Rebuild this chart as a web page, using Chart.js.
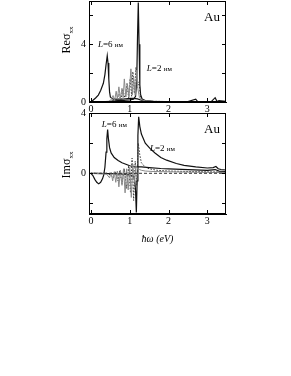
<!DOCTYPE html>
<html>
<head>
<meta charset="utf-8">
<script src="https://cdn.jsdelivr.net/npm/chart.js@4.4.1/dist/chart.umd.min.js"></script>
<style>
  body { margin: 0; background: #fff; }
  #wrap { position: relative; width: 291px; height: 376px; background: #fff; }
  canvas { position: absolute; left: 0; }
</style>
</head>
<body>
<div id="wrap">
  <canvas id="re" width="291" height="115" style="top:0"></canvas>
  <canvas id="im" width="291" height="140" style="top:105px"></canvas>
</div>
<script>
// x axis (photon energy, eV)
const xTicks = [0, 1, 2, 3];
const reTicks = [0, 2, 4, 6];
const reLabels = [0, 4];
const imTicks = [-2, 0, 2, 4];
const imLabels = [0, 4];

// Re sigma_xx
const reL6x = [0, 0.06, 0.12, 0.19, 0.25, 0.32, 0.36, 0.39, 0.42, 0.44, 0.46, 0.48, 0.5, 0.55, 0.6, 0.7, 0.8, 0.9, 1.0, 1.1, 1.2, 1.3, 1.4, 1.6, 2.0, 2.5, 3.0, 3.48];
const reL6y = [0, 0.14, 0.28, 0.48, 0.8, 1.3, 1.9, 2.6, 3.2, 2.7, 1.6, 0.7, 0.35, 0.22, 0.18, 0.2, 0.2, 0.22, 0.25, 0.25, 0.22, 0.12, 0.06, 0.03, 0.02, 0.02, 0.02, 0.02];
const reL2x = [0, 0.3, 0.5, 0.6, 0.7, 0.8, 0.9, 1.0, 1.1, 1.15, 1.18, 1.2, 1.22, 1.24, 1.26, 1.28, 1.32, 1.4, 1.6, 2.0, 2.5, 2.7, 2.75, 2.8, 3.1, 3.2, 3.25, 3.3, 3.48];
const reL2y = [0, 0.02, 0.05, 0.08, 0.1, 0.1, 0.12, 0.15, 0.2, 0.4, 1.5, 4.5, 6.9, 4.0, 1.2, 0.5, 0.2, 0.1, 0.05, 0.03, 0.03, 0.2, 0.03, 0.03, 0.03, 0.3, 0.03, 0.1, 0.05];
const reGx = [0, 0.3, 0.45, 0.52, 0.57, 0.61, 0.65, 0.68, 0.72, 0.76, 0.8, 0.83, 0.86, 0.9, 0.94, 0.98, 1.03, 1.07, 1.1, 1.14, 1.18, 1.21, 1.25, 1.3, 1.4, 1.6, 2.0, 2.5, 3.0, 3.48];
const reGy = [0, 0.02, 0.05, 0.15, 0.45, 0.1, 0.75, 0.2, 1.05, 0.25, 0.95, 0.3, 1.6, 0.35, 1.25, 0.35, 2.3, 0.5, 1.7, 0.45, 2.2, 0.9, 0.3, 0.15, 0.08, 0.05, 0.03, 0.03, 0.03, 0.03];
const reDx = [0, 0.4, 0.55, 0.62, 0.66, 0.72, 0.77, 0.82, 0.88, 0.93, 0.97, 1.01, 1.05, 1.08, 1.12, 1.16, 1.19, 1.24, 1.28, 1.35, 1.5, 2.0, 2.5, 3.0, 3.48];
const reDy = [0, 0.02, 0.05, 0.3, 0.1, 0.55, 0.15, 0.9, 0.2, 1.3, 0.3, 1.6, 0.4, 2.1, 0.6, 2.4, 1.0, 1.4, 0.3, 0.1, 0.05, 0.03, 0.03, 0.03, 0.03];

// Im sigma_xx
const imL6x = [0, 0.05, 0.1, 0.15, 0.2, 0.25, 0.3, 0.33, 0.36, 0.39, 0.41, 0.43, 0.45, 0.48, 0.52, 0.6, 0.7, 0.8, 0.9, 1.0, 1.1, 1.2, 1.3, 1.5, 1.8, 2.0, 2.5, 3.0, 3.2, 3.3, 3.48];
const imL6y = [0, -0.15, -0.4, -0.6, -0.7, -0.6, -0.35, -0.1, 0.4, 1.4, 2.3, 2.9, 2.3, 1.7, 1.35, 1.05, 0.85, 0.7, 0.6, 0.5, 0.45, 0.42, 0.42, 0.38, 0.32, 0.3, 0.25, 0.2, 0.25, 0.15, 0.12];
const imL2x = [0, 0.5, 0.8, 1.0, 1.1, 1.13, 1.15, 1.17, 1.19, 1.21, 1.23, 1.26, 1.3, 1.4, 1.52, 1.65, 1.8, 1.95, 2.2, 2.4, 2.7, 3.0, 3.15, 3.22, 3.28, 3.35, 3.48];
const imL2y = [0, -0.02, -0.05, -0.1, -0.2, -0.5, -1.2, -2.6, -0.5, 2.5, 3.75, 3.1, 2.6, 2.0, 1.65, 1.35, 1.05, 0.87, 0.65, 0.53, 0.42, 0.35, 0.38, 0.45, 0.3, 0.25, 0.22];
const imGx = [0, 0.4, 0.48, 0.52, 0.56, 0.6, 0.64, 0.68, 0.72, 0.76, 0.8, 0.84, 0.88, 0.92, 0.96, 1.0, 1.04, 1.08, 1.12, 1.16, 1.2, 1.25, 1.3, 1.4, 1.6, 2.0, 2.5, 3.0, 3.48];
const imGy = [0, -0.05, -0.3, 0.05, -0.5, 0.1, -0.6, 0.15, -0.9, 0.2, -0.8, 0.3, -1.3, 0.3, -1.1, 0.4, -1.6, 0.6, -0.6, 0.5, 0.3, 0.25, 0.2, 0.15, 0.12, 0.1, 0.08, 0.06, 0.05];
const imDx = [0, 0.4, 0.5, 0.58, 0.62, 0.7, 0.74, 0.8, 0.86, 0.92, 0.97, 1.02, 1.06, 1.1, 1.14, 1.18, 1.22, 1.26, 1.3, 1.4, 1.5, 1.7, 2.0, 2.5, 3.0, 3.48];
const imDy = [0, 0, -0.1, -0.3, 0.1, -0.5, 0.2, -0.7, 0.3, -1.0, 0.5, -1.3, 1.0, -1.8, 0.8, -0.8, 2.0, 1.2, 0.7, 0.4, 0.3, 0.2, 0.15, 0.12, 0.1, 0.08];
const zeroX = [-0.05, 3.48];
const zeroY = [0, 0];

const pts = (xs, ys) => xs.map((x, i) => ({ x, y: ys[i] }));
const serif = '"Liberation Serif", "DejaVu Serif", serif';

// frame, inward ticks, y title and notes
const decor = {
  id: 'decor',
  afterDraw(chart, args, o) {
    const { ctx, chartArea: a, scales } = chart;
    ctx.save();
    ctx.strokeStyle = '#000';
    ctx.lineWidth = 1;
    ctx.strokeRect(a.left + 0.5, a.top + 0.5, a.right - a.left - 1, a.bottom - a.top - 1);
    ctx.beginPath();
    scales.x.ticks.forEach(t => {
      const px = Math.round(scales.x.getPixelForValue(t.value)) + 0.5;
      ctx.moveTo(px, a.bottom); ctx.lineTo(px, a.bottom - 4);
      ctx.moveTo(px, a.top); ctx.lineTo(px, a.top + 4);
    });
    scales.y.ticks.forEach(t => {
      const py = Math.round(scales.y.getPixelForValue(t.value)) + 0.5;
      ctx.moveTo(a.left, py); ctx.lineTo(a.left + 4, py);
      ctx.moveTo(a.right, py); ctx.lineTo(a.right - 4, py);
    });
    ctx.stroke();

    // rotated y title with subscript
    ctx.fillStyle = '#000';
    ctx.translate(o.tx, o.ty);
    ctx.rotate(-Math.PI / 2);
    ctx.font = '12px ' + serif;
    const main = o.title + 'σ';
    const w1 = ctx.measureText(main).width;
    ctx.font = '7px ' + serif;
    const w2 = ctx.measureText('xx').width;
    ctx.textBaseline = 'alphabetic';
    ctx.font = '12px ' + serif;
    ctx.fillText(main, -(w1 + w2) / 2, 4);
    ctx.font = '7px ' + serif;
    ctx.fillText('xx', -(w1 + w2) / 2 + w1, 7);
    ctx.setTransform(1, 0, 0, 1, 0, 0);

    // "Au"
    ctx.font = '13px ' + serif;
    ctx.textAlign = 'center';
    ctx.textBaseline = 'middle';
    ctx.fillText('Au', scales.x.getPixelForValue(o.au[0]), scales.y.getPixelForValue(o.au[1]));

    // L = ... labels
    ctx.textAlign = 'left';
    ctx.textBaseline = 'alphabetic';
    o.notes.forEach(n => {
      let px = scales.x.getPixelForValue(n.x);
      const py = scales.y.getPixelForValue(n.y);
      ctx.font = 'italic 9px ' + serif;
      ctx.fillText('L', px, py);
      px += ctx.measureText('L').width;
      ctx.font = '9px ' + serif;
      const s = '=' + n.size + ' ';
      ctx.fillText(s, px, py);
      px += ctx.measureText(s).width;
      ctx.font = '7px ' + serif;
      ctx.fillText('нм', px, py);
    });
    ctx.restore();
  }
};

function lineSet(data, color, width, dash) {
  return {
    data, borderColor: color, borderWidth: width, borderDash: dash || [],
    pointRadius: 0, fill: false, tension: 0, showLine: true
  };
}

function makeChart(id, cfg) {
  return new Chart(document.getElementById(id), {
    type: 'scatter',
    data: { datasets: cfg.datasets },
    options: {
      responsive: false,
      animation: false,
      events: [],
      layout: { padding: { left: 0, right: 65, top: cfg.padTop, bottom: 0 } },
      plugins: { legend: { display: false }, tooltip: { enabled: false }, decor: cfg.decor },
      scales: {
        x: {
          type: 'linear', min: -0.05, max: 3.48,
          afterBuildTicks: s => { s.ticks = xTicks.map(v => ({ value: v })); },
          ticks: { color: '#000', font: { family: serif, size: 10 }, padding: 1, autoSkip: false, maxRotation: 0 },
          grid: { drawOnChartArea: false, drawTicks: false },
          border: { color: '#000' },
          title: cfg.xTitle ? { display: true, text: 'ħω (eV)', color: '#000', font: { family: serif, size: 10, style: 'italic' }, padding: { top: 1, bottom: 0 } } : { display: false },
          afterFit: s => { s.height = cfg.xHeight; s.paddingLeft = 0; s.paddingRight = 0; }
        },
        y: {
          type: 'linear', min: cfg.yMin, max: cfg.yMax,
          afterBuildTicks: s => { s.ticks = cfg.yTicks.map(v => ({ value: v })); },
          ticks: {
            color: '#000', font: { family: serif, size: 10 }, padding: 3, autoSkip: false,
            callback: v => cfg.yLabels.includes(v) ? String(v) : ''
          },
          grid: { drawOnChartArea: false, drawTicks: false },
          border: { color: '#000' },
          afterFit: s => { s.width = 89; s.paddingTop = 0; s.paddingBottom = 0; }
        }
      }
    },
    plugins: [decor]
  });
}

makeChart('re', {
  padTop: 1, xHeight: 13, yMin: 0, yMax: 7, yTicks: reTicks, yLabels: reLabels, xTitle: false,
  datasets: [
    lineSet(pts(reGx, reGy), '#8a8a8a', 1),
    lineSet(pts(reDx, reDy), '#333', 1, [1.5, 1.5]),
    lineSet(pts(reL2x, reL2y), '#111', 1.2),
    lineSet(pts(reL6x, reL6y), '#111', 1.2)
  ],
  decor: {
    title: 'Re', tx: 66, ty: 40, au: [3.12, 5.86],
    notes: [{ x: 0.18, y: 3.8, size: 6 }, { x: 1.44, y: 2.14, size: 2 }]
  }
});

makeChart('im', {
  padTop: 8, xHeight: 31, yMin: -2.7, yMax: 4, yTicks: imTicks, yLabels: imLabels, xTitle: true,
  datasets: [
    lineSet(pts(zeroX, zeroY), '#333', 1, [3, 2]),
    lineSet(pts(imGx, imGy), '#8a8a8a', 1),
    lineSet(pts(imDx, imDy), '#333', 1, [1.5, 1.5]),
    lineSet(pts(imL2x, imL2y), '#111', 1.2),
    lineSet(pts(imL6x, imL6y), '#111', 1.2)
  ],
  decor: {
    title: 'Im', tx: 66, ty: 60, au: [3.12, 2.87],
    notes: [{ x: 0.28, y: 3.07, size: 6 }, { x: 1.52, y: 1.47, size: 2 }]
  }
});
</script>
</body>
</html>
